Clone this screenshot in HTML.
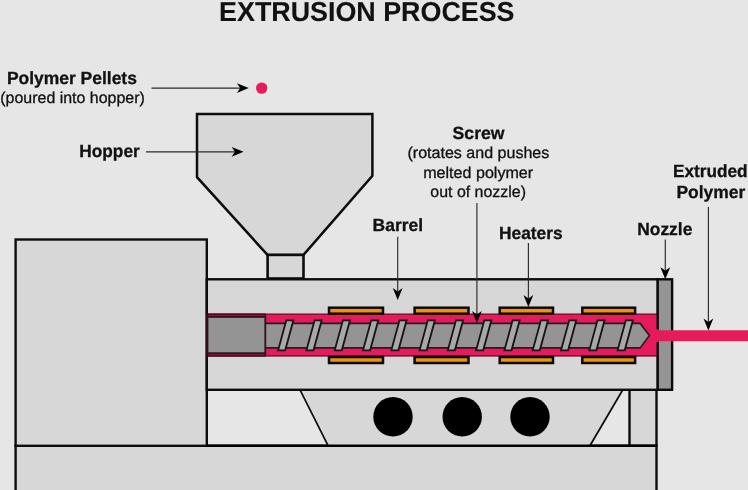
<!DOCTYPE html>
<html>
<head>
<meta charset="utf-8">
<title>Extrusion Process</title>
<style>
html,body{margin:0;padding:0;background:#e6e6e6;overflow:hidden;}
svg{display:block;will-change:transform;}
text{text-rendering:geometricPrecision;}
text{font-family:"Liberation Sans",Arial,Helvetica,sans-serif;fill:#111;stroke:#111;stroke-width:0.3;}
.b{font-weight:bold;}
.o{fill:#d7d7d7;stroke:#0d0d0d;stroke-width:2.4;stroke-linejoin:miter;}
.ln{stroke:#000;stroke-width:2;fill:none;}
.ar{stroke:#2a2a2a;stroke-width:1.15;fill:none;}
.ah{fill:#000;stroke:none;}
.ht{fill:#ec9312;stroke:#0a0a0a;stroke-width:2.5;}
.fl{fill:#a8a8a8;stroke:#141414;stroke-width:1.8;stroke-linejoin:miter;}
</style>
</head>
<body>
<svg width="748" height="490" viewBox="0 0 748 490">
<rect x="0" y="0" width="748" height="490" fill="#e6e6e6"/>

<!-- title -->
<text class="b" style="stroke-width:0.1" x="366.8" y="21" font-size="27.4" text-anchor="middle" textLength="295.5" lengthAdjust="spacingAndGlyphs">EXTRUSION PROCESS</text>

<!-- base -->
<rect class="o" x="15.6" y="445.8" width="640.9" height="60"/>
<!-- left block -->
<rect class="o" x="15.6" y="239.5" width="191.2" height="206.3"/>
<!-- support under barrel -->
<polygon class="o" style="stroke-width:1.7" points="300,389.8 622.8,389.8 589.9,445.8 328.2,445.8"/>
<rect class="o" x="629.5" y="389.8" width="27" height="56"/>
<line class="ln" x1="207" y1="445.8" x2="656.5" y2="445.8" style="stroke-width:2.4"/>
<!-- circles -->
<circle cx="393" cy="416.8" r="19.7" fill="#000"/>
<circle cx="462.2" cy="416.8" r="19.7" fill="#000"/>
<circle cx="530" cy="416.8" r="19.7" fill="#000"/>

<!-- hopper -->
<polygon class="o" style="stroke-width:2.5" points="197,113.900 372.4,113.9 372.4,175.9 303.5,254.9 267.5,254.9 197,177.2"/>
<rect class="o" style="stroke-width:2.6" x="267.6" y="254.9" width="35.9" height="23.6"/>

<!-- barrel -->
<rect class="o" x="206.800" y="279.3" width="451" height="110.5"/>
<!-- melt -->
<rect x="207" y="314.1" width="451" height="41.9" fill="#e51b5c" stroke="#5a0c25" stroke-width="1.2"/>
<!-- heaters -->
<g class="ht">
<rect x="329.0" y="307.7" width="54.0" height="6"/>
<rect x="329.0" y="357" width="54.0" height="6"/>
<rect x="414.6" y="307.7" width="53.9" height="6"/>
<rect x="414.6" y="357" width="53.9" height="6"/>
<rect x="499.7" y="307.7" width="53.3" height="6"/>
<rect x="499.7" y="357" width="53.3" height="6"/>
<rect x="582.3" y="307.7" width="52.8" height="6"/>
<rect x="582.3" y="357" width="52.8" height="6"/>
</g>
<!-- nozzle plate -->
<rect x="657.7" y="279.3" width="14.4" height="110.5" fill="#949494" stroke="#0a0a0a" stroke-width="2.4"/>
<!-- strand -->
<polygon points="656,329 660,330.2 748,330.2 748,341.2 660,341.2 656,342.6" fill="#e51b5c"/>
<!-- screw shaft -->
<polygon points="265,323.4 640.2,323.4 649.4,335.6 640.2,347.9 265,347.9" fill="#949494" stroke="#2a1a1e" stroke-width="1.6"/>
<rect x="207.5" y="314.1" width="57.8" height="41.9" fill="#8f1540" stroke="#3a0818" stroke-width="1.2"/>
<rect x="207.5" y="316.9" width="57.8" height="36.3" fill="#949494" stroke="#2e1219" stroke-width="1.8"/>
<!-- flights -->
<g class="fl">
<polygon points="278.1,350.3 285.2,350.3 293.4,320.3 286.3,320.3"/>
<polygon points="306.4,350.3 313.5,350.3 321.7,320.3 314.6,320.3"/>
<polygon points="334.7,350.3 341.8,350.3 350.0,320.3 342.9,320.3"/>
<polygon points="363.0,350.3 370.1,350.3 378.3,320.3 371.2,320.3"/>
<polygon points="391.3,350.3 398.4,350.3 406.6,320.3 399.5,320.3"/>
<polygon points="419.6,350.3 426.7,350.3 434.9,320.3 427.8,320.3"/>
<polygon points="447.8,350.3 454.9,350.3 463.1,320.3 456.0,320.3"/>
<polygon points="476.1,350.3 483.2,350.3 491.4,320.3 484.3,320.3"/>
<polygon points="504.4,350.3 511.5,350.3 519.7,320.3 512.6,320.3"/>
<polygon points="532.7,350.3 539.8,350.3 548.0,320.3 540.9,320.3"/>
<polygon points="561.0,350.3 568.1,350.3 576.3,320.3 569.2,320.3"/>
<polygon points="589.3,350.3 596.4,350.3 604.6,320.3 597.5,320.3"/>
<polygon points="617.6,350.3 624.7,350.3 632.9,320.3 625.8,320.3"/>
</g>

<!-- arrows -->
<g class="ar">
<line x1="151.5" y1="88.1" x2="240.2" y2="88.1"/>
<line x1="146.0" y1="151.8" x2="235.0" y2="151.8"/>
<line x1="397.7" y1="236.8" x2="397.7" y2="291.4"/>
<line x1="476.9" y1="203.0" x2="476.9" y2="314.4"/>
<line x1="528.4" y1="243.0" x2="528.4" y2="298.4"/>
<line x1="665.3" y1="239.5" x2="665.3" y2="270.6"/>
<line x1="708.4" y1="207.0" x2="708.4" y2="322.0"/>
</g>
<g class="ah">
<polygon points="248.8,88.1 236.8,83.2 240.2,88.1 236.8,93.0"/>
<polygon points="243.6,151.8 231.6,146.9 235.0,151.8 231.6,156.7"/>
<polygon points="397.7,300.0 392.8,288.0 397.7,291.4 402.6,288.0"/>
<polygon points="476.9,323.0 472.0,311.0 476.9,314.4 481.8,311.0"/>
<polygon points="528.4,307.0 523.5,295.0 528.4,298.4 533.3,295.0"/>
<polygon points="665.3,279.2 660.4,267.2 665.3,270.6 670.2,267.2"/>
<polygon points="708.4,330.6 703.5,318.6 708.4,322.0 713.3,318.6"/>
</g>
<!-- pellet -->
<circle cx="261.7" cy="88.1" r="5.7" fill="#e51b5c"/>

<!-- labels -->
<text class="b" x="6.9" y="83.8" font-size="17.6" textLength="130" lengthAdjust="spacingAndGlyphs">Polymer Pellets</text>
<text x="0.3" y="103" font-size="15.8" textLength="144.5" lengthAdjust="spacingAndGlyphs">(poured into hopper)</text>
<text class="b" x="79.3" y="156.8" font-size="17.6" textLength="60.4" lengthAdjust="spacingAndGlyphs">Hopper</text>
<text class="b" x="452.6" y="139.1" font-size="17.6" textLength="52" lengthAdjust="spacingAndGlyphs">Screw</text>
<text x="407.5" y="158.2" font-size="15.8" textLength="141.8" lengthAdjust="spacingAndGlyphs">(rotates and pushes</text>
<text x="423.2" y="178" font-size="15.8" textLength="110" lengthAdjust="spacingAndGlyphs">melted polymer</text>
<text x="430.3" y="197.2" font-size="15.8" textLength="95.7" lengthAdjust="spacingAndGlyphs">out of nozzle)</text>
<text class="b" x="372.6" y="230.8" font-size="17.6" textLength="50.4" lengthAdjust="spacingAndGlyphs">Barrel</text>
<text class="b" x="499" y="238.7" font-size="17.6" textLength="63.6" lengthAdjust="spacingAndGlyphs">Heaters</text>
<text class="b" x="637.3" y="234.7" font-size="17.6" textLength="55" lengthAdjust="spacingAndGlyphs">Nozzle</text>
<text class="b" x="673" y="176.9" font-size="17.6" textLength="74.6" lengthAdjust="spacingAndGlyphs">Extruded</text>
<text class="b" x="676.4" y="197.5" font-size="17.6" textLength="68.8" lengthAdjust="spacingAndGlyphs">Polymer</text>
</svg>
</body>
</html>
